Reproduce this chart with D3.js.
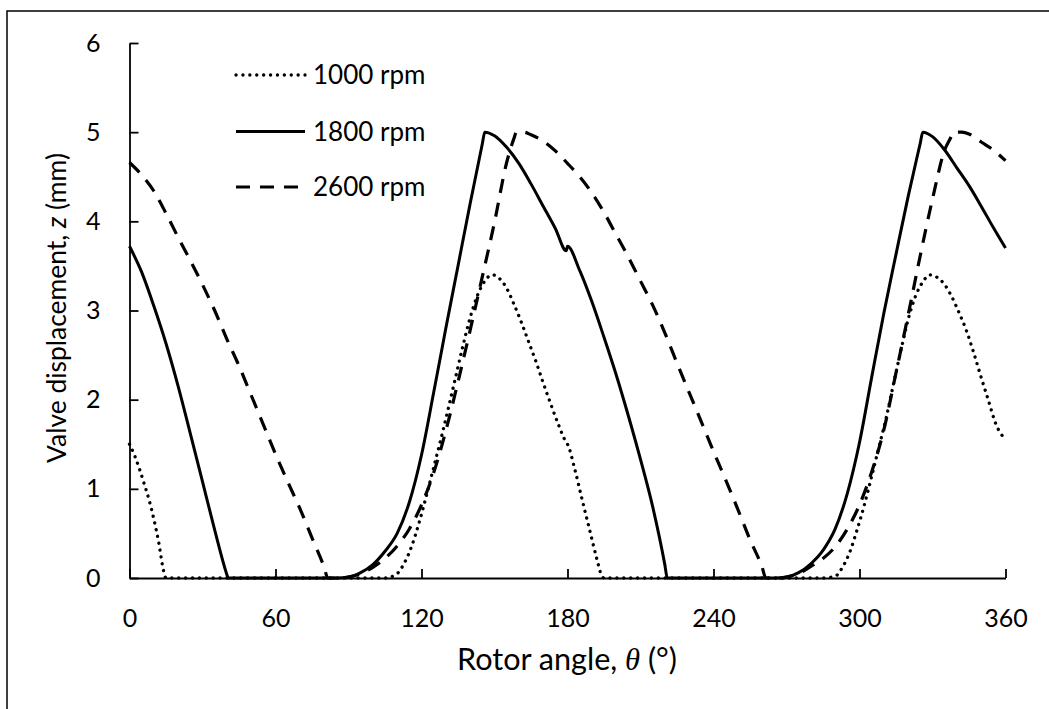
<!DOCTYPE html>
<html>
<head>
<meta charset="utf-8">
<script src="https://cdn.jsdelivr.net/npm/d3@7"></script>
<style>
  html, body { margin: 0; padding: 0; background: #fff; }
  svg { display: block; }
  text { font-family: Lato, "Open Sans", sans-serif; fill: #000; }
</style>
</head>
<body>
<svg id="chart" width="1049" height="709"></svg>
<script>
// ---------------- data ----------------
const seriesNames = ["1000 rpm", "1800 rpm", "2600 rpm"];
const xTickValues = [0, 60, 120, 180, 240, 300, 360];
const yTickValues = [0, 1, 2, 3, 4, 5, 6];

const angle1000 = [0, 2, 4, 6, 8, 10, 12, 14, 15,
  105, 110, 113, 116, 119, 122, 125, 128, 131, 134, 137, 140, 143, 146, 149, 152, 155, 158, 161, 164, 167, 170, 173, 176, 179.5,
  180, 183, 186, 189, 192, 194, 195,
  285, 290, 293, 296, 299, 302, 305, 308, 311, 314, 317, 320, 323, 326, 329, 332, 335, 338, 341, 344, 347, 350, 353, 356, 360];
const z1000 = [1.5, 1.38, 1.23, 1.06, 0.88, 0.66, 0.40, 0.08, 0,
  0, 0.05, 0.17, 0.36, 0.62, 0.92, 1.24, 1.56, 1.9, 2.25, 2.6, 2.92, 3.17, 3.33, 3.40, 3.36, 3.25, 3.07, 2.87, 2.65, 2.43, 2.19, 1.96, 1.74, 1.52,
  1.5, 1.22, 0.88, 0.55, 0.22, 0.03, 0,
  0, 0.02, 0.12, 0.29, 0.54, 0.82, 1.14, 1.47, 1.8, 2.18, 2.55, 2.9, 3.16, 3.32, 3.4, 3.37, 3.29, 3.15, 2.97, 2.77, 2.52, 2.25, 1.99, 1.73, 1.55];

const angle1800 = [0, 5, 10, 15, 20, 25, 30, 35, 40, 40.5,
  85, 90, 95, 100, 105, 110, 115, 120, 125, 130, 135, 140, 145, 146,
  150, 155, 160, 165, 170, 175, 179.5,
  180, 185, 190, 195, 200, 205, 210, 215, 220, 221,
  265, 270, 275, 280, 285, 290, 295, 300, 305, 310, 315, 320, 325, 326,
  330, 335, 340, 345, 350, 355, 360];
const z1800 = [3.72, 3.43, 3.05, 2.63, 2.15, 1.62, 1.08, 0.54, 0.04, 0,
  0, 0.01, 0.06, 0.15, 0.3, 0.5, 0.85, 1.38, 2.08, 2.8, 3.5, 4.2, 4.87, 5.0,
  4.96, 4.83, 4.65, 4.42, 4.17, 3.92, 3.67,
  3.72, 3.45, 3.1, 2.7, 2.28, 1.82, 1.33, 0.8, 0.15, 0,
  0, 0.01, 0.06, 0.16, 0.31, 0.55, 0.95, 1.52, 2.25, 2.97, 3.63, 4.28, 4.88, 5.0,
  4.95, 4.8, 4.6, 4.4, 4.17, 3.93, 3.7];

const angle2600 = [0, 5, 10, 15, 20, 25, 30, 35, 40, 45, 50, 55, 60, 65, 70, 75, 80, 81.5,
  88, 90, 95, 100, 105, 110, 115, 120, 125, 130, 135, 140, 145, 150, 155, 158, 159,
  162, 165, 170, 175, 180,
  185, 190, 195, 200, 205, 210, 215, 220, 225, 230, 235, 240, 245, 250, 255, 260, 261.5,
  268, 270, 275, 280, 285, 290, 295, 300, 305, 310, 315, 320, 325, 330, 335, 337.5, 338.5,
  342, 345, 350, 355, 360];
const z2600 = [4.66, 4.52, 4.34, 4.09, 3.82, 3.56, 3.29, 3.00, 2.68, 2.38, 2.05, 1.72, 1.39, 1.08, 0.78, 0.45, 0.12, 0,
  0, 0.01, 0.05, 0.12, 0.22, 0.36, 0.55, 0.82, 1.18, 1.65, 2.2, 2.78, 3.38, 3.99, 4.66, 4.93, 5.0,
  5.0, 4.97, 4.9, 4.79, 4.65,
  4.5, 4.32, 4.1, 3.85, 3.6, 3.33, 3.06, 2.75, 2.41, 2.08, 1.75, 1.42, 1.1, 0.77, 0.43, 0.12, 0,
  0, 0.01, 0.05, 0.13, 0.22, 0.35, 0.55, 0.82, 1.19, 1.66, 2.3, 2.95, 3.62, 4.25, 4.8, 4.94, 5.0,
  5.0, 4.98, 4.89, 4.8, 4.68];

// ---------------- drawing ----------------
const svg = d3.select("#chart");
const x = d3.scaleLinear().domain([0, 360]).range([129.5, 1005.5]);
const y = d3.scaleLinear().domain([0, 6]).range([578, 43]);

// outer frame (right/bottom edges fall outside the picture)
svg.append("rect").attr("x", 7).attr("y", 11).attr("width", 1100).attr("height", 800)
  .attr("fill", "none").attr("stroke", "#000").attr("stroke-width", 1.5);

const styles = [
  { dash: "0.1,6.8", cap: "round", width: 3.3 },
  { dash: null, cap: "butt", width: 3 },
  { dash: "14,10", cap: "butt", width: 3.2 }
];
const series = [
  d3.zip(angle1000, z1000),
  d3.zip(angle1800, z1800),
  d3.zip(angle2600, z2600)
];

const line = d3.line().x(d => x(d[0])).y(d => y(d[1])).curve(d3.curveMonotoneX);

// axes
const xAxis = svg.append("g").attr("transform", `translate(0,${y(0)})`)
  .call(d3.axisBottom(x).tickValues(xTickValues).tickFormat(d3.format("d"))
    .tickSizeInner(-9).tickSizeOuter(0).tickPadding(31));
const yAxis = svg.append("g").attr("transform", `translate(${x(0)},0)`)
  .call(d3.axisLeft(y).tickValues(yTickValues).tickFormat(d3.format("d"))
    .tickSizeInner(-9).tickSizeOuter(0).tickPadding(29));
[xAxis, yAxis].forEach(g => {
  g.selectAll("path, line").attr("stroke", "#000").attr("stroke-width", 1.8);
  g.selectAll("text").attr("font-family", "Lato, sans-serif").attr("font-size", 25).attr("fill", "#000");
});

// series lines
series.forEach((s, i) => {
  svg.append("path").datum(s)
    .attr("fill", "none").attr("stroke", "#000")
    .attr("stroke-width", styles[i].width)
    .attr("stroke-linecap", styles[i].cap)
    .attr("stroke-linejoin", "round")
    .attr("stroke-dasharray", styles[i].dash)
    .attr("d", line);
});

// legend
const legendY = [75, 131.5, 187];
seriesNames.forEach((name, i) => {
  svg.append("line").attr("x1", 236).attr("x2", 305).attr("y1", legendY[i]).attr("y2", legendY[i])
    .attr("stroke", "#000").attr("stroke-width", styles[i].width)
    .attr("stroke-linecap", styles[i].cap).attr("stroke-dasharray", styles[i].dash);
  svg.append("text").attr("x", 313).attr("y", legendY[i] + 9)
    .attr("font-size", 26).text(name);
});

// axis titles
function fitWidth(sel, target) {
  const w = sel.node().getComputedTextLength();
  const fs = parseFloat(sel.attr("font-size"));
  if (w > 0) sel.attr("font-size", (fs * target / w).toFixed(2));
}
const xt = svg.append("text").attr("x", 567).attr("y", 670).attr("text-anchor", "middle").attr("font-size", 24);
xt.append("tspan").text("Rotor angle, ");
xt.append("tspan").attr("font-family", "'Liberation Serif', serif").attr("font-style", "italic").text("θ");
xt.append("tspan").text(" (°)");
fitWidth(xt, 220);

const yt = svg.append("text").attr("transform", "translate(66,308) rotate(-90)")
  .attr("text-anchor", "middle").attr("font-size", 24);
yt.append("tspan").text("Valve displacement, ");
yt.append("tspan").attr("font-style", "italic").text("z");
yt.append("tspan").text(" (mm)");
fitWidth(yt, 310);
</script>
</body>
</html>
